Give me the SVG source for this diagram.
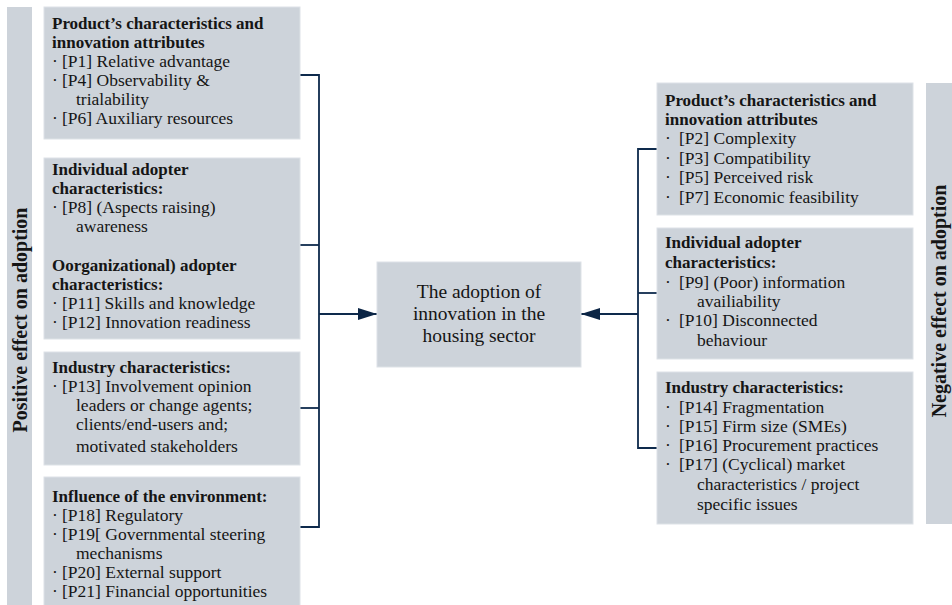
<svg xmlns="http://www.w3.org/2000/svg" width="952" height="605" viewBox="0 0 952 605">
  <defs>
    <marker id="arrow" viewBox="0 0 19 12" refX="19" refY="6" markerWidth="19" markerHeight="12" markerUnits="userSpaceOnUse" orient="auto">
      <path d="M0,0 L19,6 L0,12 Z" fill="#0b2545"/>
    </marker>
    <style>
      .box { fill: #cdd3da; stroke: #dde2e7; stroke-width: 1; }
      .side { fill: #cdd3da; }
      text { font-family: "Liberation Serif", "Times New Roman", serif; font-size: 17.5px; fill: #151515; }
      .b { font-weight: bold; font-size: 17px; }
      .side-label { font-weight: bold; font-size: 20px; text-anchor: middle; }
      .center { text-anchor: middle; font-size: 19.5px; }
      .wire { fill: none; stroke: #0e2a4c; stroke-width: 1.8; }
    </style>
  </defs>

  <rect width="952" height="605" fill="#ffffff"/>

  <!-- Side bars -->
  <g id="positive-bar">
    <rect class="side" x="7" y="7" width="25" height="598"/>
    <text class="side-label" transform="translate(27,320) rotate(-90)">Positive effect on adoption</text>
  </g>
  <g id="negative-bar">
    <rect class="side" x="926" y="83" width="26" height="441"/>
    <text class="side-label" transform="translate(946,301) rotate(-90)">Negative effect on adoption</text>
  </g>

  <!-- Connectors -->
  <g id="connectors">
    <polyline class="wire" points="300,75 319,75 319,527 300,527"/>
    <line class="wire" x1="300" y1="245" x2="319" y2="245"/>
    <line class="wire" x1="300" y1="408" x2="319" y2="408"/>
    <line class="wire" x1="319" y1="314" x2="377" y2="314" marker-end="url(#arrow)"/>
    <polyline class="wire" points="657,149 638,149 638,448 657,448"/>
    <line class="wire" x1="638" y1="293" x2="657" y2="293"/>
    <line class="wire" x1="638" y1="314" x2="581" y2="314" marker-end="url(#arrow)"/>
  </g>

  <!-- Left column -->
  <g id="pos-product">
    <rect class="box" x="44" y="7" width="256" height="132"/>
    <text class="b" x="52" y="29">Product’s characteristics and</text>
    <text class="b" x="52" y="48">innovation attributes</text>
    <text x="52" y="67">·</text><text x="62" y="67">[P1] Relative advantage</text>
    <text x="52" y="86">·</text><text x="62" y="86">[P4] Observability &amp;</text>
    <text x="76" y="105">trialability</text>
    <text x="52" y="124">·</text><text x="62" y="124">[P6] Auxiliary resources</text>
  </g>

  <g id="pos-adopter">
    <rect class="box" x="44" y="158" width="256" height="181"/>
    <text class="b" x="52" y="175">Individual adopter</text>
    <text class="b" x="52" y="194">characteristics:</text>
    <text x="52" y="213">·</text><text x="62" y="213">[P8] (Aspects raising)</text>
    <text x="76" y="232">awareness</text>
    <text class="b" x="52" y="271">Oorganizational) adopter</text>
    <text class="b" x="52" y="290">characteristics:</text>
    <text x="52" y="309">·</text><text x="62" y="309">[P11] Skills and knowledge</text>
    <text x="52" y="328">·</text><text x="62" y="328">[P12] Innovation readiness</text>
  </g>

  <g id="pos-industry">
    <rect class="box" x="44" y="352" width="256" height="113"/>
    <text class="b" x="52" y="373">Industry characteristics:</text>
    <text x="52" y="392">·</text><text x="62" y="392">[P13] Involvement opinion</text>
    <text x="76" y="411">leaders or change agents;</text>
    <text x="76" y="430">clients/end-users and;</text>
    <text x="76" y="452">motivated stakeholders</text>
  </g>

  <g id="pos-environment">
    <rect class="box" x="44" y="477" width="256" height="135"/>
    <text class="b" x="52" y="502">Influence of the environment:</text>
    <text x="52" y="521">·</text><text x="62" y="521">[P18] Regulatory</text>
    <text x="52" y="540">·</text><text x="62" y="540">[P19[ Governmental steering</text>
    <text x="76" y="559">mechanisms</text>
    <text x="52" y="578">·</text><text x="62" y="578">[P20] External support</text>
    <text x="52" y="597">·</text><text x="62" y="597">[P21] Financial opportunities</text>
  </g>

  <!-- Central outcome -->
  <g id="adoption">
    <rect class="box" x="377" y="262" width="204" height="105"/>
    <text class="center" x="479" y="298">The adoption of</text>
    <text class="center" x="479" y="320">innovation in the</text>
    <text class="center" x="479" y="342">housing sector</text>
  </g>

  <!-- Right column -->
  <g id="neg-product">
    <rect class="box" x="657" y="83" width="256" height="132"/>
    <text class="b" x="665" y="106">Product’s characteristics and</text>
    <text class="b" x="665" y="125">innovation attributes</text>
    <text x="665" y="144">·</text><text x="679" y="144">[P2] Complexity</text>
    <text x="665" y="164">·</text><text x="679" y="164">[P3] Compatibility</text>
    <text x="665" y="183">·</text><text x="679" y="183">[P5] Perceived risk</text>
    <text x="665" y="203">·</text><text x="679" y="203">[P7] Economic feasibility</text>
  </g>

  <g id="neg-adopter">
    <rect class="box" x="657" y="228" width="256" height="131"/>
    <text class="b" x="665" y="248">Individual adopter</text>
    <text class="b" x="665" y="268">characteristics:</text>
    <text x="665" y="288">·</text><text x="679" y="288">[P9] (Poor) information</text>
    <text x="697" y="307">availiability</text>
    <text x="665" y="326">·</text><text x="679" y="326">[P10] Disconnected</text>
    <text x="697" y="346">behaviour</text>
  </g>

  <g id="neg-industry">
    <rect class="box" x="657" y="372" width="256" height="152"/>
    <text class="b" x="665" y="393">Industry characteristics:</text>
    <text x="665" y="413">·</text><text x="679" y="413">[P14] Fragmentation</text>
    <text x="665" y="432">·</text><text x="679" y="432">[P15] Firm size (SMEs)</text>
    <text x="665" y="451">·</text><text x="679" y="451">[P16] Procurement practices</text>
    <text x="665" y="470">·</text><text x="679" y="470">[P17] (Cyclical) market</text>
    <text x="697" y="490">characteristics / project</text>
    <text x="697" y="510">specific issues</text>
  </g>
</svg>
